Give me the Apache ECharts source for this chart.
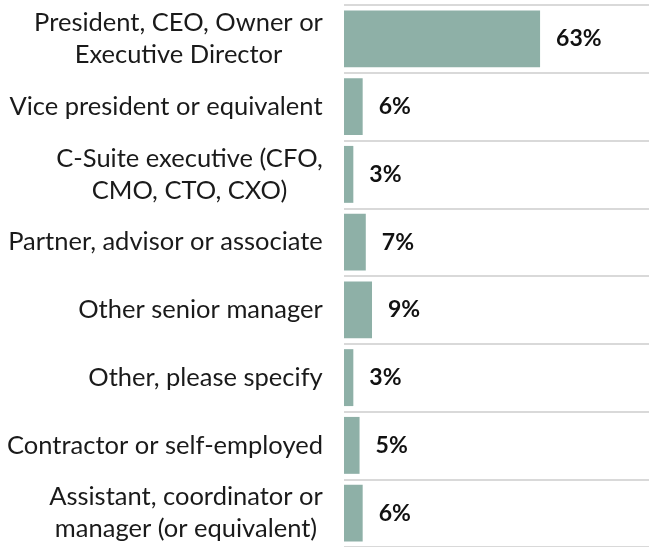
<!DOCTYPE html>
<html>
<head>
<meta charset="utf-8">
<script src="https://cdn.jsdelivr.net/npm/echarts@6/dist/echarts.min.js"></script>
<style>
  html, body { margin: 0; padding: 0; background: #ffffff; }
  #chart { width: 649px; height: 547px; }
</style>
</head>
<body>
<div id="chart"></div>
<script>
// Job roles, listed top to bottom
const roles = [
  ['President, CEO, Owner or', 'Executive Director'],
  ['Vice president or equivalent'],
  ['C-Suite executive (CFO,', 'CMO, CTO, CXO)'],
  ['Partner, advisor or associate'],
  ['Other senior manager'],
  ['Other, please specify'],
  ['Contractor or self-employed'],
  ['Assistant, coordinator or', 'manager (or equivalent)']
];
// Share of respondents, percent
const shares = [63, 6, 3, 7, 9, 3, 5, 6];

const labelFont = 'Lato';
const labelSize = 25.5;

// Measure each role label so wrapped lines can be centred inside their block
const measureCtx = document.createElement('canvas').getContext('2d');
measureCtx.font = labelSize + 'px ' + labelFont;
const rich = {};
roles.forEach((lines, i) => {
  const w = Math.max(...lines.map(l => measureCtx.measureText(l).width));
  rich['r' + i] = { width: Math.ceil(w), align: 'center', fontFamily: labelFont, fontSize: labelSize, color: '#1a1a1a', lineHeight: 32 };
});

const chart = echarts.init(document.getElementById('chart'), null, { renderer: 'canvas' });
chart.setOption({
  animation: false,
  backgroundColor: '#ffffff',
  grid: { left: 344, top: 5, right: 0, height: 544, containLabel: false },
  xAxis: {
    type: 'value', min: 0, max: 98,
    show: false
  },
  yAxis: {
    type: 'category',
    inverse: true,
    data: roles.map(l => l.join('\n')),
    axisLine: { show: false },
    axisTick: { show: false },
    splitLine: { show: true, lineStyle: { color: '#d9d9d9', width: 2 } },
    axisLabel: {
      margin: 21,
      align: 'right',
      formatter: (value, index) => roles[index].map(l => '{r' + index + '|' + l + '}').join('\n'),
      rich: rich
    }
  },
  series: [{
    type: 'bar',
    data: shares,
    barCategoryGap: '16%',
    itemStyle: { color: '#8eb0a7' },
    label: {
      show: true,
      position: 'right',
      distance: 16,
      formatter: p => p.value + '%',
      fontFamily: labelFont,
      fontWeight: 'bold',
      fontSize: 23,
      color: '#111111'
    }
  }]
});
</script>
</body>
</html>
